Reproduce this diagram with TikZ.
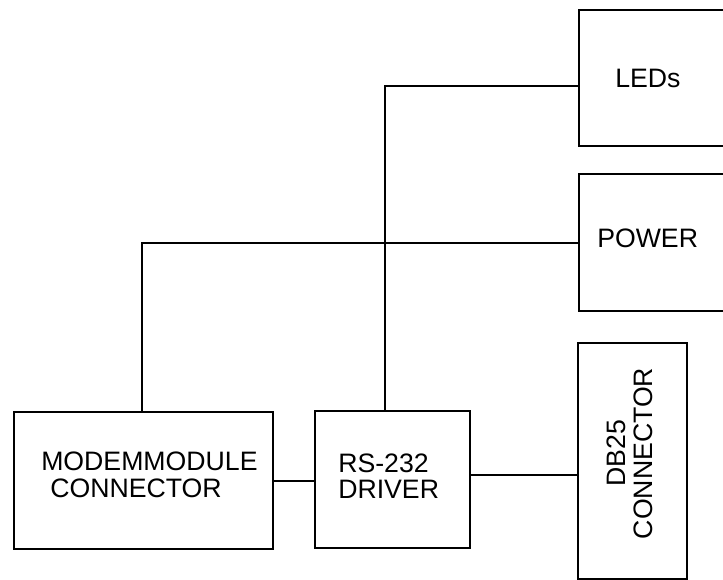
\documentclass[tikz,border=0pt]{standalone}
\usepackage{fontspec}
\setmainfont{Liberation Sans}
\begin{document}
\begin{tikzpicture}[x=0.75pt,y=-0.75pt,
  blk/.style={draw=black,line width=1.6pt,inner sep=0pt,anchor=north west},
  wire/.style={draw=black,line width=1.6pt},
  lbl/.style={inner sep=0pt,anchor=base west,font=\fontsize{20}{21}\selectfont},
  vlbl/.style={inner sep=0pt,anchor=base,rotate=90,font=\fontsize{20}{21}\selectfont}]
\useasboundingbox (0,0) rectangle (723,580);
\clip (0,0) rectangle (723,580);
% blocks
\node[blk,minimum width=170*0.75pt,minimum height=136*0.75pt] (leds) at (578,9) {};
\node[blk,minimum width=170*0.75pt,minimum height=137*0.75pt] (power) at (578,173) {};
\node[blk,minimum width=109*0.75pt,minimum height=236*0.75pt] (db) at (577,342) {};
\node[blk,minimum width=259*0.75pt,minimum height=137*0.75pt] (modem) at (13,411) {};
\node[blk,minimum width=155*0.75pt,minimum height=137*0.75pt] (rs) at (314,410) {};
% labels
\node[lbl] (tleds) at (615,88) {LEDs};
\node[lbl] (tpower) at (597,248) {POWER};
\node[lbl] (tmodemA) at (41,470) {MODEMMODULE};
\node[lbl] (tmodemB) at (50,497) {CONNECTOR};
\node[lbl] (trsA) at (338,472) {RS-232};
\node[lbl] (trsB) at (338,498) {DRIVER};
\node[vlbl] (tdbA) at (625,453.5) {DB25};
\node[vlbl] (tdbB) at (652,453.5) {CONNECTOR};
% junction coordinates
\coordinate (j1) at (385,86);
\coordinate (j2) at (142,243);
\coordinate (m1) at (0,481);
\coordinate (m2) at (0,475);
% connectors
\draw[wire] (rs.north -| j1) -- (j1) -- (j1 -| leds.west);
\draw[wire] (modem.north -| j2) -- (j2) -- (j2 -| power.west);
\draw[wire] (modem.east |- m1) -- (rs.west |- m1);
\draw[wire] (rs.east |- m2) -- (db.west |- m2);
\end{tikzpicture}
\end{document}
